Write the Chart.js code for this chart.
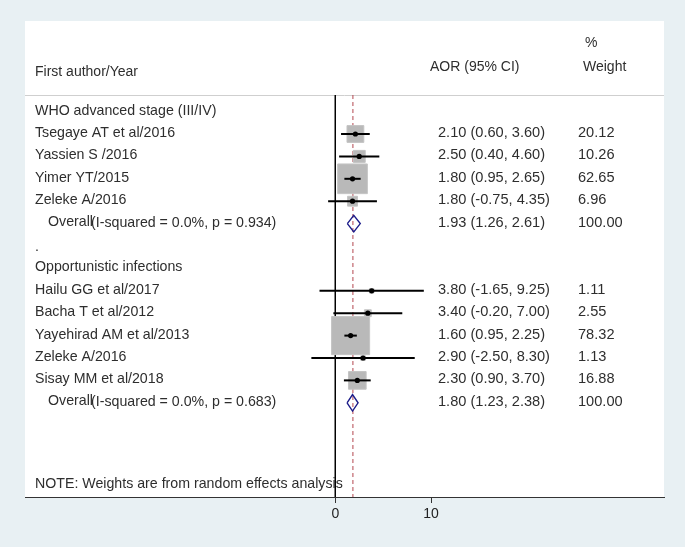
<!DOCTYPE html>
<html>
<head>
<meta charset="utf-8">
<script src="https://cdn.jsdelivr.net/npm/chart.js@4.4.0/dist/chart.umd.min.js"></script>
<style>
  body { margin:0; background:#e8f0f3; }
  #wrap { width:685px; height:547px; }
</style>
</head>
<body>
<div id="wrap"><canvas id="c" width="685" height="547"></canvas></div>
<script>
// data
var groupNames = ['WHO advanced stage (III/IV)', 'Opportunistic infections']
var studies = ['Tsegaye AT et al/2016', 'Yassien S /2016', 'Yimer YT/2015', 'Zeleke A/2016',
               'Hailu GG et al/2017', 'Bacha T et al/2012', 'Yayehirad AM et al/2013', 'Zeleke A/2016', 'Sisay MM et al/2018']
var studyGroup = [0, 0, 0, 0, 1, 1, 1, 1, 1]
var aor   = [2.10, 2.50, 1.80, 1.80, 3.80, 3.40, 1.60, 2.90, 2.30]
var lower = [0.60, 0.40, 0.95, -0.75, -1.65, -0.20, 0.95, -2.50, 0.90]
var upper = [3.60, 4.60, 2.65, 4.35, 9.25, 7.00, 2.25, 8.30, 3.70]
var weight = [20.12, 10.26, 62.65, 6.96, 1.11, 2.55, 78.32, 1.13, 16.88]
var overallAor   = [1.93, 1.80]
var overallLower = [1.26, 1.23]
var overallUpper = [2.61, 2.38]
var overallText  = ['(I-squared = 0.0%, p = 0.934)', '(I-squared = 0.0%, p = 0.683)']
var pooledLine = 1.84
var xTicks = [0, 10]

var FONT = '"Liberation Sans", Arial, sans-serif'
var TXT = '#2e2e2e'

// build row layout: group header, studies, overall, spacer
var rows = []
var studyRow = []
var overallRow = []
for (g = 0; g < groupNames.length; g++) {
    rows.push({kind: 'group', text: groupNames[g]})
    for (i = 0; i < studies.length; i++) {
        if (studyGroup[i] == g) {
            studyRow[i] = rows.length
            rows.push({kind: 'study', i: i})
        }
    }
    overallRow[g] = rows.length
    rows.push({kind: 'overall', g: g})
    if (g < groupNames.length - 1) rows.push({kind: 'dot'})
}

function fmt(v) { return v.toFixed(2) }

// box side grows with sqrt(weight); separate factor per subgroup as in the figure
var boxK = [3.75, 4.3]
var boxData = [], boxRadius = [], dotData = []
for (i = 0; i < studies.length; i++) {
    boxData.push({x: aor[i], y: studyRow[i]})
    boxRadius.push(boxK[studyGroup[i]] * Math.sqrt(weight[i]) / Math.SQRT2)
    dotData.push({x: aor[i], y: studyRow[i]})
}

var datasets = []
datasets.push({data: dotData, pointStyle: 'circle', pointRadius: 2.6, backgroundColor: '#000', borderColor: '#000', borderWidth: 0, showLine: false, order: 0})
for (i = 0; i < studies.length; i++) {
    datasets.push({data: [{x: lower[i], y: studyRow[i]}, {x: upper[i], y: studyRow[i]}],
        showLine: true, borderColor: '#000', borderWidth: 2, pointRadius: 0, order: 1})
}
var dh = 0.37
for (g = 0; g < overallAor.length; g++) {
    var r = overallRow[g]
    datasets.push({data: [{x: overallLower[g], y: r}, {x: overallAor[g], y: r - dh}, {x: overallUpper[g], y: r},
                          {x: overallAor[g], y: r + dh}, {x: overallLower[g], y: r}],
        showLine: true, borderColor: '#1c1c8a', borderWidth: 1.4, pointRadius: 0, order: 1})
}
datasets.push({data: boxData, pointStyle: 'rect', pointRadius: boxRadius, backgroundColor: '#b9b9b9', borderColor: '#c4c4c4', borderWidth: 1, showLine: false, order: 2})

var topY = -0.74
var botY = 17.3
datasets.push({data: [{x: 0, y: topY}, {x: 0, y: botY}], showLine: true, borderColor: '#000', borderWidth: 1, pointRadius: 0, order: 3})
datasets.push({data: [{x: pooledLine, y: topY}, {x: pooledLine, y: botY}], showLine: true, borderColor: '#b4464f', borderWidth: 1, borderDash: [4, 3], pointRadius: 0, order: 3})

var panelBg = {
    id: 'panelBg',
    beforeDraw: function(chart) {
        var a = chart.chartArea, ctx = chart.ctx
        ctx.save()
        ctx.fillStyle = '#fff'
        ctx.fillRect(a.left, a.top, a.right - a.left, a.bottom - a.top)
        var y = Math.round(chart.scales.y.getPixelForValue(topY)) + 0.5
        ctx.strokeStyle = '#cfcfcf'
        ctx.lineWidth = 1
        ctx.beginPath(); ctx.moveTo(a.left, y); ctx.lineTo(a.right, y); ctx.stroke()
        ctx.restore()
    }
}

var texts = {
    id: 'texts',
    afterDraw: function(chart) {
        var ctx = chart.ctx, ys = chart.scales.y
        ctx.save()
        ctx.fillStyle = TXT
        ctx.textBaseline = 'middle'
        ctx.textAlign = 'left'
        ctx.font = '14px ' + FONT
        // header
        ctx.fillText('First author/Year', 35, 72)
        ctx.fillText('AOR (95% CI)', 430, 67)
        ctx.fillText('%', 585, 43)
        ctx.fillText('Weight', 583, 67)
        var nameFont = '14.2px ' + FONT, valFont = '14.6px ' + FONT
        for (k = 0; k < rows.length; k++) {
            var row = rows[k]
            var y = ys.getPixelForValue(k) - 1
            ctx.font = nameFont
            if (row.kind == 'group') ctx.fillText(row.text, 35, y)
            else if (row.kind == 'dot') ctx.fillText('.', 35, y + 2)
            else if (row.kind == 'study') {
                var i = row.i
                ctx.fillText(studies[i], 35, y)
                ctx.font = valFont
                ctx.fillText(fmt(aor[i]) + ' (' + fmt(lower[i]) + ', ' + fmt(upper[i]) + ')', 438, y)
                ctx.fillText(weight[i].toFixed(2), 578, y)
            } else if (row.kind == 'overall') {
                var g = row.g
                ctx.fillText('Overall', 48, y - 0.5)
                ctx.fillText(overallText[g], 91, y + 0.5)
                ctx.font = valFont
                ctx.fillText(fmt(overallAor[g]) + ' (' + fmt(overallLower[g]) + ', ' + fmt(overallUpper[g]) + ')', 438, y)
                ctx.fillText('100.00', 578, y)
            }
        }
        ctx.font = nameFont
        ctx.fillText('NOTE: Weights are from random effects analysis', 35, 484)
        ctx.restore()
    }
}

var pxPerUnit = 9.57
var zeroPx = 335.3
new Chart(document.getElementById('c').getContext('2d'), {
    type: 'scatter',
    data: {datasets: datasets},
    options: {
        responsive: false,
        animation: false,
        devicePixelRatio: 1,
        layout: {autoPadding: false, padding: {left: 25, right: 21, top: 21, bottom: 0}},
        plugins: {legend: {display: false}, tooltip: {enabled: false}},
        scales: {
            x: {
                type: 'linear',
                min: (25 - zeroPx) / pxPerUnit,
                max: (664 - zeroPx) / pxPerUnit,
                afterBuildTicks: function(s) { s.ticks = xTicks.map(function(v) { return {value: v} }) },
                afterFit: function(s) { s.height = 50 },
                border: {display: true, color: '#333', width: 1},
                grid: {display: true, drawOnChartArea: false, drawTicks: true, tickLength: 6, color: '#333'},
                ticks: {color: '#222', font: {family: FONT, size: 14}, padding: 3, maxRotation: 0}
            },
            y: {
                type: 'linear',
                display: false,
                reverse: true,
                min: (21 - 111.6) / 22.4,
                max: (497 - 111.6) / 22.4
            }
        }
    },
    plugins: [panelBg, texts]
})
</script>
</body>
</html>
